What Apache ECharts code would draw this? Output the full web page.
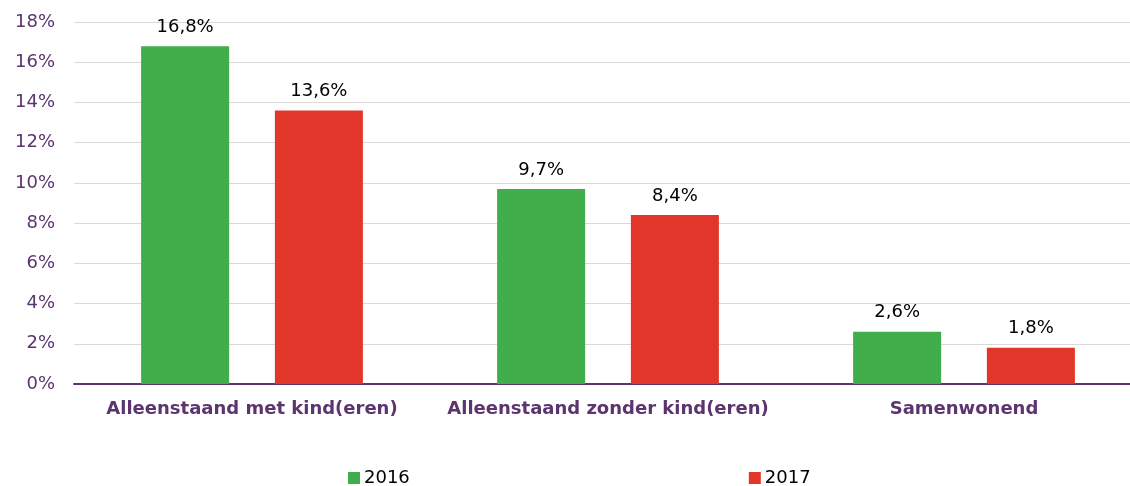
<!DOCTYPE html>
<html>
<head>
<meta charset="utf-8">
<script src="https://cdn.jsdelivr.net/npm/echarts@6/dist/echarts.min.js"></script>
<style>
  html, body { margin: 0; padding: 0; background: #fff; overflow: hidden; }
  #chart { width: 1142px; height: 486px; }
</style>
</head>
<body>
<div id="chart"></div>
<script>
  // data
  let categories = ['Alleenstaand met kind(eren)', 'Alleenstaand zonder kind(eren)', 'Samenwonend'];
  let seriesNames = ['2016', '2017'];
  let values2016 = [16.8, 9.7, 2.6];
  let values2017 = [13.6, 8.4, 1.8];
  let colors = ['#42ad4b', '#e13629'];

  let purple = '#5c3470';
  let font = 'DejaVu Sans';
  let myChart = echarts.init(document.getElementById('chart'));

  function pct(v) {
    return v.toFixed(1).replace('.', ',') + '%';
  }

  let option = {
    backgroundColor: '#ffffff',
    animation: false,
    textStyle: { fontFamily: font },
    legend: {
      data: seriesNames,
      left: 348,
      top: 469,
      padding: 0,
      itemWidth: 12,
      itemHeight: 12,
      itemGap: 339,
      icon: 'rect',
      textStyle: { color: '#000', fontSize: 18, fontFamily: font, padding: [0, 0, 0, -1] }
    },
    grid: {
      left: 74,
      right: 0,
      top: 22,
      bottom: 102,
      containLabel: false
    },
    xAxis: {
      type: 'category',
      data: categories,
      axisLine: { lineStyle: { color: purple, width: 2 } },
      axisTick: { show: false },
      axisLabel: {
        interval: 0,
        color: purple,
        fontWeight: 'bold',
        fontSize: 18,
        fontFamily: font,
        margin: 16
      }
    },
    yAxis: {
      type: 'value',
      min: 0,
      max: 18,
      interval: 2,
      axisLine: { show: false },
      axisTick: { show: false },
      axisLabel: {
        color: purple,
        fontSize: 18,
        fontFamily: font,
        margin: 19,
        formatter: function (v) { return v + '%'; }
      },
      splitLine: { lineStyle: { color: '#d9d9d9', width: 1 } }
    },
    series: []
  };

  let allValues = [values2016, values2017];
  for (let i = 0; i < seriesNames.length; i++) {
    option.series.push({
      name: seriesNames[i],
      type: 'bar',
      data: allValues[i],
      barWidth: 88,
      barGap: '52%',
      itemStyle: { color: colors[i] },
      label: {
        show: true,
        position: 'top',
        distance: 10,
        color: '#000',
        fontSize: 18,
        fontFamily: font,
        formatter: function (p) { return pct(p.value); }
      }
    });
  }

  myChart.setOption(option);
</script>
</body>
</html>
